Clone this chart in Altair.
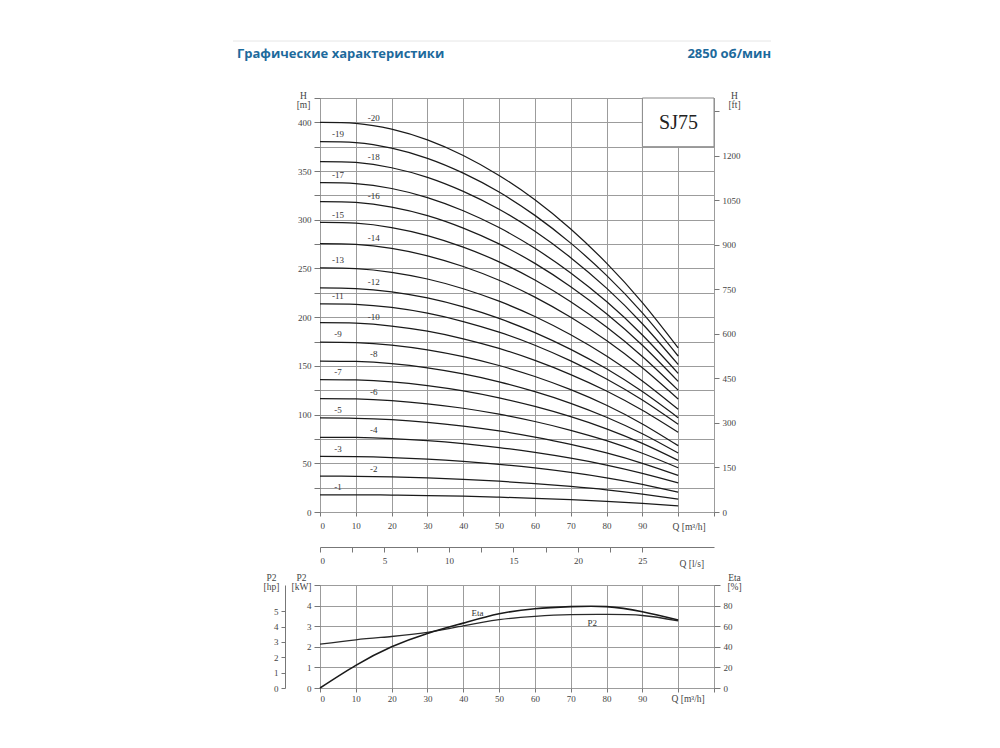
import altair as alt
import pandas as pd

# ---------------- data ----------------
flow = [0, 10, 20, 30, 40, 50, 60, 70, 80, 90, 100]

head_1 = [17.7, 17.6, 17.4, 16.9, 16.2, 15.2, 14.0, 12.6, 10.9, 8.8, 6.3]
head_2 = [36.8, 36.7, 36.1, 35.1, 33.6, 31.6, 29.2, 26.2, 22.7, 18.3, 13.1]
head_3 = [57.0, 56.8, 55.9, 54.3, 52.0, 49.0, 45.2, 40.6, 35.1, 28.4, 20.3]
head_4 = [76.7, 76.5, 75.3, 73.2, 70.1, 66.1, 61.1, 55.2, 48.2, 39.7, 29.9]
head_5 = [96.5, 96.2, 94.8, 92.1, 88.2, 83.2, 76.9, 69.5, 60.6, 50.0, 37.6]
head_6 = [116.5, 116.2, 114.4, 111.1, 106.5, 100.4, 92.9, 83.9, 73.2, 60.3, 45.4]
head_7 = [136.0, 135.6, 133.6, 129.7, 124.3, 117.2, 108.4, 97.9, 85.4, 70.4, 53.0]
head_8 = [155.0, 154.5, 152.2, 147.9, 141.7, 133.6, 123.5, 111.6, 97.3, 80.3, 60.5]
head_9 = [174.5, 174.0, 171.4, 166.5, 159.5, 150.4, 139.1, 125.6, 109.6, 90.4, 68.1]
head_10 = [194.3, 193.8, 190.9, 185.6, 177.8, 167.9, 155.6, 141.1, 124.2, 104.4, 81.8]
head_11 = [213.7, 213.2, 210.0, 204.1, 195.5, 184.6, 171.2, 155.1, 136.6, 114.9, 90.0]
head_12 = [230.0, 229.4, 226.0, 219.7, 210.5, 198.7, 184.2, 167.0, 147.0, 123.6, 96.8]
head_13 = [250.5, 249.9, 246.1, 239.2, 229.2, 216.4, 200.7, 181.9, 160.1, 134.6, 105.5]
head_14 = [275.4, 274.7, 270.6, 263.0, 252.0, 237.9, 220.6, 199.9, 176.0, 148.0, 115.9]
head_15 = [297.2, 296.5, 292.0, 283.8, 271.9, 256.8, 238.1, 215.8, 189.9, 159.7, 125.1]
head_16 = [318.6, 317.8, 313.0, 304.3, 291.5, 275.3, 255.2, 231.3, 203.6, 171.2, 134.1]
head_17 = [338.0, 337.2, 332.1, 322.8, 309.3, 292.0, 270.7, 245.4, 216.0, 181.7, 142.3]
head_18 = [359.7, 358.8, 353.4, 343.5, 329.1, 310.8, 288.1, 261.1, 229.8, 193.3, 151.4]
head_19 = [380.2, 379.2, 373.5, 363.1, 347.9, 328.5, 304.5, 276.0, 242.9, 204.4, 160.1]
head_20 = [400.0, 399.0, 393.0, 382.0, 366.0, 345.5, 320.5, 290.5, 255.5, 215.0, 168.5]

heads = [head_1, head_2, head_3, head_4, head_5, head_6, head_7, head_8, head_9, head_10,
         head_11, head_12, head_13, head_14, head_15, head_16, head_17, head_18, head_19, head_20]
stage_names = ["-" + str(i) for i in range(1, 21)]

label_q = [5, 15] * 10
label_h = [25.5, 44.5, 65, 84, 104.4, 123.5, 144, 161.8, 182.4, 200.5,
           221.6, 236, 258.4, 281, 305, 324, 345.8, 364.5, 388, 404]

eta = [0, 22, 40, 53, 63, 72, 77, 79, 79, 74, 66]
p2_kw = [2.13, 2.34, 2.5, 2.7, 3.02, 3.32, 3.48, 3.56, 3.57, 3.52, 3.26]

curve_names = ["Eta", "P2"]
curve_label_q = [44, 76]
curve_label_kw = [3.66, 3.17]

m_ticks = list(range(0, 426, 25))
ft_ticks = list(range(0, 1351, 150))
q_ticks = list(range(0, 111, 10))
ls_ticks = [0, 2.5, 5, 7.5, 10, 12.5, 15, 17.5, 20, 22.5, 25]
kw_ticks = [0, 1, 2, 3, 4, 5]
hp_ticks = [0, 1, 2, 3, 4, 5]
eta_ticks = [0, 20, 40, 60, 80, 100]

# ---------------- style ----------------
SERIF = "Liberation Serif"
GRID = "#9c9c9c"
INK = "#1a1a1a"
BLUE = "#1d6a9c"
W = 394
TOP_H = 414
BOT_H = 103

rows = []
for name, hs in zip(stage_names, heads):
    for q, h in zip(flow, hs):
        rows.append({"stage": name, "Q": q, "H": h})
curves_df = pd.DataFrame(rows)
labels_df = pd.DataFrame({"stage": stage_names, "Q": label_q, "H": label_h})

x_top = alt.X(
    "Q:Q",
    scale=alt.Scale(domain=[0, 110], nice=False, zero=True),
    axis=alt.Axis(values=q_ticks, grid=True, domain=False, tickSize=4, labelPadding=5,
                  labelOverlap=False, format="d",
                  labelExpr="datum.value <= 90 ? datum.label : ''",
                  title="Q [m³/h]", titleX=352, titleY=14, titleAlign="left",
                  titleBaseline="middle", titleAngle=0),
)
y_top = alt.Y(
    "H:Q",
    scale=alt.Scale(domain=[0, 425], nice=False),
    axis=alt.Axis(values=m_ticks, grid=True, domain=False, tickSize=6, labelPadding=3,
                  labelOverlap=False, format="d",
                  labelExpr="datum.value % 50 == 0 && datum.value <= 400 ? datum.label : ''",
                  title=["H", "[m]"], titleAngle=0, titleX=-17, titleY=-8,
                  titleAlign="center", titleBaseline="top", titleLineHeight=9),
)

curves = alt.Chart(curves_df).mark_line(
    interpolate="natural", color=INK, strokeWidth=1.25
).encode(x=x_top, y=y_top, detail="stage:N")

stage_labels = alt.Chart(labels_df).mark_text(
    font=SERIF, fontSize=9, color="#333"
).encode(x=x_top, y=y_top, text="stage:N")

one = pd.DataFrame({"t": ["SJ75"]})
box = alt.Chart(one).mark_rect(fill="white", stroke="#888", strokeWidth=1).encode(
    x=alt.value(322.4), x2=alt.value(W), y=alt.value(0), y2=alt.value(48.7))
box_text = alt.Chart(one).mark_text(font=SERIF, fontSize=20, color="#222").encode(
    x=alt.value(358.5), y=alt.value(25), text="t:N")

head_left = alt.Chart(pd.DataFrame({"t": ["Графические характеристики"]})).mark_text(
    font="Open Sans", fontWeight="bold", fontSize=13, color=BLUE, align="left", baseline="middle"
).encode(x=alt.value(-83), y=alt.value(-44), text="t:N")
head_right = alt.Chart(pd.DataFrame({"t": ["2850 об/мин"]})).mark_text(
    font="Open Sans", fontWeight="bold", fontSize=13, color=BLUE, align="right", baseline="middle"
).encode(x=alt.value(451), y=alt.value(-44), text="t:N")
head_rule = alt.Chart(one).mark_rule(color="#e6e6e6", strokeWidth=1).encode(
    x=alt.value(-87), x2=alt.value(451), y=alt.value(-57))

inner_top = alt.layer(curves, stage_labels, box, box_text, head_left, head_right, head_rule)

ft_layer = alt.Chart(pd.DataFrame({"ft": ft_ticks})).mark_point(opacity=0).encode(
    y=alt.Y("ft:Q", scale=alt.Scale(domain=[0, 425 / 0.3048], nice=False),
            axis=alt.Axis(orient="right", values=ft_ticks, grid=False, domain=False,
                          tickSize=5, labelPadding=3, labelOverlap=False, format="d",
                          labelExpr="datum.value <= 1200 ? datum.label : ''",
                          title=["H", "[ft]"], titleAngle=0, titleX=20, titleY=-8,
                          titleAlign="center", titleBaseline="top", titleLineHeight=9)))

ls_layer = alt.Chart(pd.DataFrame({"ls": ls_ticks})).mark_point(opacity=0).encode(
    x=alt.X("ls:Q", scale=alt.Scale(domain=[0, 110 / 3.6], nice=False),
            axis=alt.Axis(orient="bottom", offset=35, values=ls_ticks, grid=False, domain=True,
                          tickSize=5, labelPadding=4, labelOverlap=False,
                          labelExpr="datum.value % 5 == 0 ? datum.label : ''",
                          title="Q [l/s]", titleX=359, titleY=16, titleAlign="left",
                          titleBaseline="middle", titleAngle=0)))

top = alt.layer(inner_top, ft_layer, ls_layer).resolve_scale(
    x="independent", y="independent").properties(width=W, height=TOP_H)

# ---------------- bottom chart ----------------
perf_df = pd.DataFrame({"Q": flow, "eta": eta, "p2": p2_kw})
curve_lab_df = pd.DataFrame({"name": curve_names, "Q": curve_label_q, "p2": curve_label_kw})

x_bot = alt.X(
    "Q:Q",
    scale=alt.Scale(domain=[0, 110], nice=False, zero=True),
    axis=alt.Axis(values=q_ticks, grid=True, domain=False, tickSize=4, labelPadding=2,
                  labelOverlap=False, format="d",
                  labelExpr="datum.value <= 90 ? datum.label : ''",
                  title="Q [m³/h]", titleX=351, titleY=10, titleAlign="left",
                  titleBaseline="middle", titleAngle=0),
)

kw_y = alt.Y("p2:Q", scale=alt.Scale(domain=[0, 5], nice=False),
             axis=alt.Axis(values=kw_ticks, grid=True, domain=False, tickSize=6, labelPadding=3,
                           labelOverlap=False, format="d",
                           labelExpr="datum.value <= 4 ? datum.label : ''",
                           title=["P2", "[kW]"], titleAngle=0, titleX=-19, titleY=-13,
                           titleAlign="center", titleBaseline="top", titleLineHeight=9))

p2_line = alt.Chart(perf_df).mark_line(interpolate="natural", color="#2a2a2a", strokeWidth=1.3).encode(
    x=x_bot, y=kw_y)
curve_labels = alt.Chart(curve_lab_df).mark_text(font=SERIF, fontSize=9, color="#333").encode(
    x=x_bot, y=kw_y, text="name:N")
kw_layer = alt.layer(p2_line, curve_labels)

eta_line = alt.Chart(perf_df).mark_line(interpolate="natural", color="#1a1a1a", strokeWidth=1.6).encode(
    x=x_bot,
    y=alt.Y("eta:Q", scale=alt.Scale(domain=[0, 100], nice=False),
            axis=alt.Axis(orient="right", values=eta_ticks, grid=False, domain=False,
                          tickSize=6, labelPadding=3, labelOverlap=False, format="d",
                          labelExpr="datum.value <= 80 ? datum.label : ''",
                          title=["Eta", "[%]"], titleAngle=0, titleX=20, titleY=-13,
                          titleAlign="center", titleBaseline="top", titleLineHeight=9)))

hp_layer = alt.Chart(pd.DataFrame({"hp": hp_ticks})).mark_point(opacity=0).encode(
    y=alt.Y("hp:Q", scale=alt.Scale(domain=[0, 5 / 0.7457], nice=False),
            axis=alt.Axis(orient="left", offset=35, values=hp_ticks, grid=False, domain=True,
                          tickSize=4, labelPadding=3, labelOverlap=False, format="d",
                          title=["P2", "[hp]"], titleAngle=0, titleX=-14, titleY=-13,
                          titleAlign="center", titleBaseline="top", titleLineHeight=9)))

bottom = alt.layer(kw_layer, eta_line, hp_layer).resolve_scale(y="independent").properties(
    width=W, height=BOT_H)

chart = alt.vconcat(top, bottom, spacing=3).properties(
    padding={"left": 224, "top": 32, "right": 5, "bottom": 5}
).configure_axis(
    labelFont=SERIF, labelFontSize=9, labelColor="#444",
    titleFont=SERIF, titleFontSize=9.5, titleFontWeight="normal", titleColor="#444",
    tickColor="#777", domainColor="#777", gridColor=GRID, gridWidth=1,
).configure_view(stroke="#8a8a8a", strokeWidth=1)

chart.save("out.html", embed_options={"renderer": "svg", "actions": False})
